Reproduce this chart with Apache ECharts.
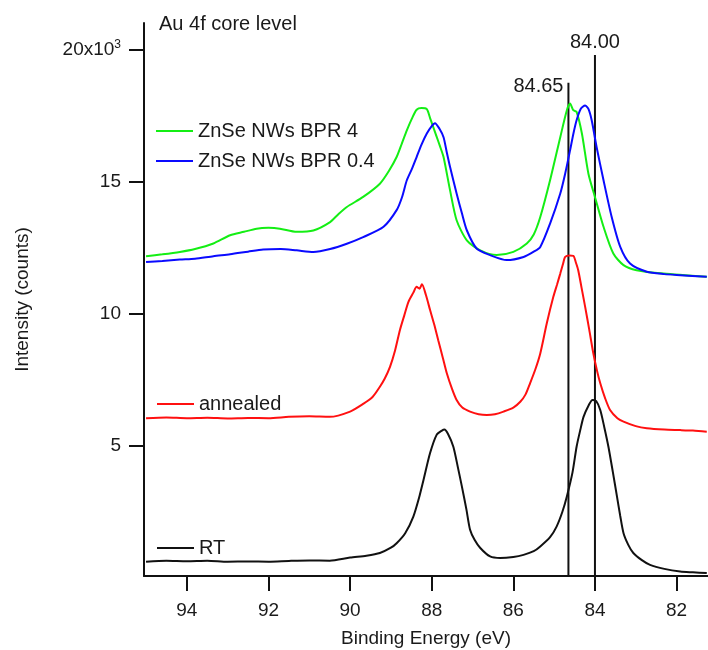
<!DOCTYPE html>
<html>
<head>
<meta charset="utf-8">
<script src="https://cdn.jsdelivr.net/npm/echarts@6/dist/echarts.min.js"></script>
<style>html,body{margin:0;padding:0;background:#fff}#c{width:708px;height:650px}</style>
</head>
<body>
<div id="c"></div>
<script>
// Binding energy (eV) and intensity (x10^3 counts)
var rtEnergy = [95.0,94.5,94.0,93.5,93.0,92.5,92.0,91.5,91.0,90.5,90.0,89.6,89.27,89.0,88.86,88.65,88.45,88.3,88.2,88.04,87.88,87.75,87.69,87.6,87.47,87.36,87.26,87.15,87.06,86.95,86.81,86.57,86.32,86.0,85.75,85.5,85.34,85.1,84.94,84.8,84.69,84.55,84.45,84.36,84.28,84.15,84.06,83.97,83.87,83.77,83.67,83.56,83.46,83.38,83.3,83.18,83.06,82.85,82.65,82.3,81.91,81.6,81.26];
var rtCounts = [0.62,0.66,0.64,0.66,0.62,0.63,0.62,0.65,0.67,0.66,0.78,0.85,0.95,1.15,1.32,1.7,2.33,3.1,3.72,4.73,5.42,5.58,5.62,5.45,4.97,4.2,3.46,2.6,1.83,1.45,1.14,0.82,0.76,0.8,0.88,1.02,1.2,1.55,1.95,2.5,3.08,4.0,4.97,5.6,6.1,6.55,6.74,6.7,6.36,5.7,4.97,4.0,3.08,2.35,1.7,1.25,0.95,0.68,0.5,0.35,0.25,0.22,0.19];

var annEnergy = [95.0,94.5,94.0,93.5,93.0,92.5,92.0,91.5,91.0,90.5,90.0,89.67,89.45,89.27,89.15,89.02,88.9,88.78,88.67,88.57,88.45,88.37,88.3,88.24,88.14,88.04,87.94,87.84,87.73,87.63,87.5,87.39,87.25,87.06,86.85,86.65,86.45,86.24,86.0,85.83,85.7,85.59,85.46,85.34,85.18,85.02,84.93,84.85,84.78,84.73,84.62,84.53,84.47,84.41,84.33,84.24,84.14,84.04,83.95,83.87,83.75,83.63,83.45,83.3,83.0,82.73,82.3,81.91,81.6,81.26];
var annCounts = [6.05,6.08,6.05,6.07,6.04,6.06,6.05,6.1,6.12,6.1,6.3,6.6,6.85,7.24,7.55,8.0,8.6,9.38,9.95,10.45,10.8,11.02,10.95,11.12,10.7,10.14,9.6,9.0,8.35,7.75,7.15,6.74,6.45,6.3,6.2,6.17,6.2,6.3,6.45,6.67,6.95,7.37,7.9,8.5,9.64,10.64,11.1,11.52,11.9,12.15,12.2,12.19,11.95,11.65,11.0,10.26,9.4,8.5,7.85,7.37,6.8,6.36,6.05,5.92,5.75,5.67,5.62,5.6,5.58,5.54];

var bpr4Energy = [95.0,94.6,94.17,93.8,93.35,92.94,92.6,92.29,92.0,91.72,91.31,90.9,90.49,90.3,90.08,89.68,89.27,89.05,88.86,88.73,88.61,88.48,88.37,88.25,88.12,88.04,87.88,87.8,87.71,87.55,87.39,87.14,86.81,86.41,86.0,85.67,85.5,85.34,85.1,84.85,84.69,84.61,84.53,84.45,84.32,84.16,84.0,83.79,83.55,83.3,82.98,82.32,81.26];
var bpr4Counts = [12.18,12.25,12.34,12.45,12.66,12.97,13.1,13.22,13.25,13.22,13.1,13.15,13.47,13.75,14.04,14.42,14.92,15.4,15.93,16.45,16.94,17.4,17.72,17.78,17.74,17.4,16.7,16.35,15.93,14.67,13.54,12.78,12.4,12.22,12.34,12.66,13.0,13.66,15.05,16.68,17.69,17.95,17.7,17.64,16.82,15.3,14.42,13.29,12.28,11.84,11.65,11.52,11.4];

var bpr04Energy = [95.0,94.6,94.17,93.8,93.35,92.94,92.5,92.13,91.7,91.31,90.9,90.49,90.08,89.68,89.18,88.86,88.73,88.61,88.48,88.37,88.25,88.12,88.0,87.92,87.81,87.71,87.63,87.55,87.39,87.26,87.14,86.9,86.57,86.16,85.75,85.5,85.34,85.1,84.85,84.73,84.61,84.53,84.45,84.35,84.24,84.16,84.08,83.96,83.79,83.59,83.38,83.14,82.73,82.3,81.91,81.26];
var bpr04Counts = [11.96,12.0,12.05,12.08,12.18,12.25,12.35,12.43,12.45,12.4,12.34,12.45,12.65,12.9,13.29,13.92,14.4,15.05,15.5,15.93,16.4,16.82,17.1,17.21,17.0,16.68,16.1,15.55,14.55,13.8,13.16,12.47,12.22,12.03,12.15,12.35,12.53,13.41,14.55,15.3,16.18,16.8,17.32,17.75,17.88,17.75,17.32,16.31,15.05,13.66,12.53,11.9,11.59,11.5,11.46,11.4];

// Reference lines: position (eV) and top (x10^3 counts)
var refLineEnergy = [84.65, 84.00];
var refLineTop = [18.74, 19.79];
var refLineLabels = ['84.65', '84.00'];

var xTicks = [94, 92, 90, 88, 86, 84, 82];
var yTicks = [5, 10, 15, 20];

var X_MIN = 81.23, X_MAX = 95.05, Y_MIN = 0.08, Y_MAX = 21.0;

function pairs(xs, ys) { return xs.map(function (x, i) { return [x, ys[i]]; }); }

var FONT = 'Liberation Sans';
var TXT = '#1a1a1a';
var chart = echarts.init(document.getElementById('c'), null, { renderer: 'canvas' });

function curve(name, xs, ys, color) {
  return {
    name: name, type: 'line', data: pairs(xs, ys), showSymbol: false, symbol: 'none',
    smooth: 0.25, lineStyle: { color: color, width: 2 }, itemStyle: { color: color },
    animation: false, z: 3
  };
}

var series = [
  curve('ZnSe NWs BPR 4', bpr4Energy, bpr4Counts, '#14ee14'),
  curve('ZnSe NWs BPR 0.4', bpr04Energy, bpr04Counts, '#0a0aff'),
  curve('annealed', annEnergy, annCounts, '#ff1010'),
  curve('RT', rtEnergy, rtCounts, '#111111')
];

refLineEnergy.forEach(function (e, i) {
  series.push({
    type: 'line', data: [[e, Y_MIN], [e, refLineTop[i]]], showSymbol: false, symbol: 'none',
    lineStyle: { color: '#111', width: 2 }, animation: false, z: 2, silent: true
  });
  series.push({
    type: 'scatter', data: [[e, refLineTop[i]]], symbolSize: 0, animation: false, silent: true,
    itemStyle: { opacity: 1, color: TXT },
    label: {
      show: true, formatter: refLineLabels[i], fontFamily: FONT, fontSize: 20, color: TXT, opacity: 1,
      position: i === 0 ? 'left' : 'top', distance: i === 0 ? 5 : 3, offset: i === 0 ? [0, 4] : [0, 0]
    }
  });
});

var legendBase = {
  orient: 'vertical', icon: 'rect', itemWidth: 37, itemHeight: 2, itemGap: 10,
  textStyle: { fontFamily: FONT, fontSize: 20, color: TXT },
  selectedMode: false
};

chart.setOption({
  backgroundColor: '#fff',
  animation: false,
  grid: { left: 144, right: 0, top: 23, bottom: 74, outerBoundsMode: 'none', containLabel: false },
  legend: [
    Object.assign({}, legendBase, { left: 151, top: 116, data: ['ZnSe NWs BPR 4', 'ZnSe NWs BPR 0.4'] }),
    Object.assign({}, legendBase, { left: 152, top: 389, data: ['annealed'] }),
    Object.assign({}, legendBase, { left: 152, top: 533, data: ['RT'] })
  ],
  graphic: [{
    type: 'text', left: 159, top: 14,
    style: { text: 'Au 4f core level', fontFamily: FONT, fontSize: 20, fill: TXT }
  }],
  xAxis: {
    type: 'value', inverse: true, min: X_MIN, max: X_MAX,
    name: 'Binding Energy (eV)', nameLocation: 'middle', nameGap: 53,
    nameTextStyle: { fontFamily: FONT, fontSize: 19, color: TXT },
    axisLine: { show: true, lineStyle: { color: '#111', width: 2 } },
    axisTick: { show: true, length: 15, lineStyle: { color: '#111', width: 2 }, customValues: xTicks },
    axisLabel: { fontFamily: FONT, fontSize: 19, color: TXT, margin: 25, customValues: xTicks },
    splitLine: { show: false }
  },
  yAxis: {
    type: 'value', min: Y_MIN, max: Y_MAX,
    name: 'Intensity (counts)', nameLocation: 'middle', nameGap: 112, nameRotate: 90,
    nameTextStyle: { fontFamily: FONT, fontSize: 19, color: TXT },
    axisLine: { show: true, lineStyle: { color: '#111', width: 2 } },
    axisTick: { show: true, length: 15, lineStyle: { color: '#111', width: 2 }, customValues: yTicks },
    axisLabel: {
      fontFamily: FONT, fontSize: 19, color: TXT, margin: 23, customValues: yTicks,
      formatter: function (v) { return v === 20 ? '{b|20x10}{s|3}' : String(v); },
      rich: {
        b: { fontFamily: FONT, fontSize: 19, color: TXT, lineHeight: 22 },
        s: { fontFamily: FONT, fontSize: 12, color: TXT, verticalAlign: 'top', lineHeight: 12 }
      }
    },
    splitLine: { show: false }
  },
  series: series
});
</script>
</body>
</html>
